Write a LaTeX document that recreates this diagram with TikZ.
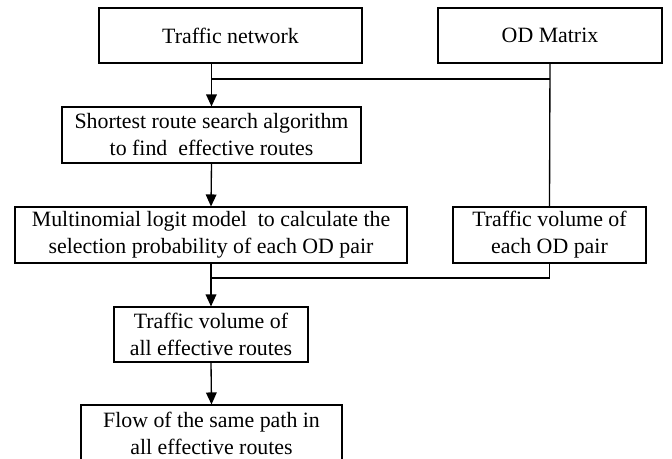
\documentclass[tikz,border=0pt]{standalone}
\usepackage{fontspec}
\setmainfont{Liberation Serif}
\usetikzlibrary{arrows.meta}
\def\px{*0.75pt}
\begin{document}
\begin{tikzpicture}[x=0.75pt,y=-0.75pt,
  box/.style={draw,line width=0.8pt,inner sep=0pt,align=center,font=\fontsize{16.4}{20.25}\selectfont},
  conn/.style={line width=1pt},
  arr/.style={conn,-{Triangle[length=9pt,width=8pt]}}]
\useasboundingbox (0,0) rectangle (672,459);
\node[box,minimum width=263\px,minimum height=55\px] (tn) at (230.5,35.5) {Traffic network};
\node[box,minimum width=224\px,minimum height=55\px] (od) at (550,35.5) {OD Matrix};
\node[box,minimum width=299\px,minimum height=56\px] (sr) at (211.5,135) {Shortest route search algorithm\\to find\ \ effective routes};
\node[box,minimum width=392\px,minimum height=56\px] (ml) at (211,235) {Multinomial logit model\ \ to calculate the\\selection probability of each OD pair};
\node[box,minimum width=193\px,minimum height=56\px] (tve) at (549.5,235) {Traffic volume of\\each OD pair};
\node[box,minimum width=194\px,minimum height=55\px] (tva) at (211,334.5) {Traffic volume of\\all effective routes};
\node[box,minimum width=261\px,minimum height=56\px] (fl) at (211.5,433) {Flow of the same path in\\all effective routes};
\coordinate (j1) at (211.5,79);
\coordinate (j2) at (211,278);
\draw[arr] (tn.south -| sr.north) -- (sr.north);
\draw[conn] (od.south) -- (tve.north);
\draw[conn] (od.south |- j1) -- (j1);
\draw[arr] (sr.south) -- (ml.north);
\draw[arr] (ml.south) -- (tva.north);
\draw[conn] (tve.south) -- (tve.south |- j2) -- (j2);
\draw[arr] (tva.south) -- (fl.north);
\end{tikzpicture}
\end{document}
